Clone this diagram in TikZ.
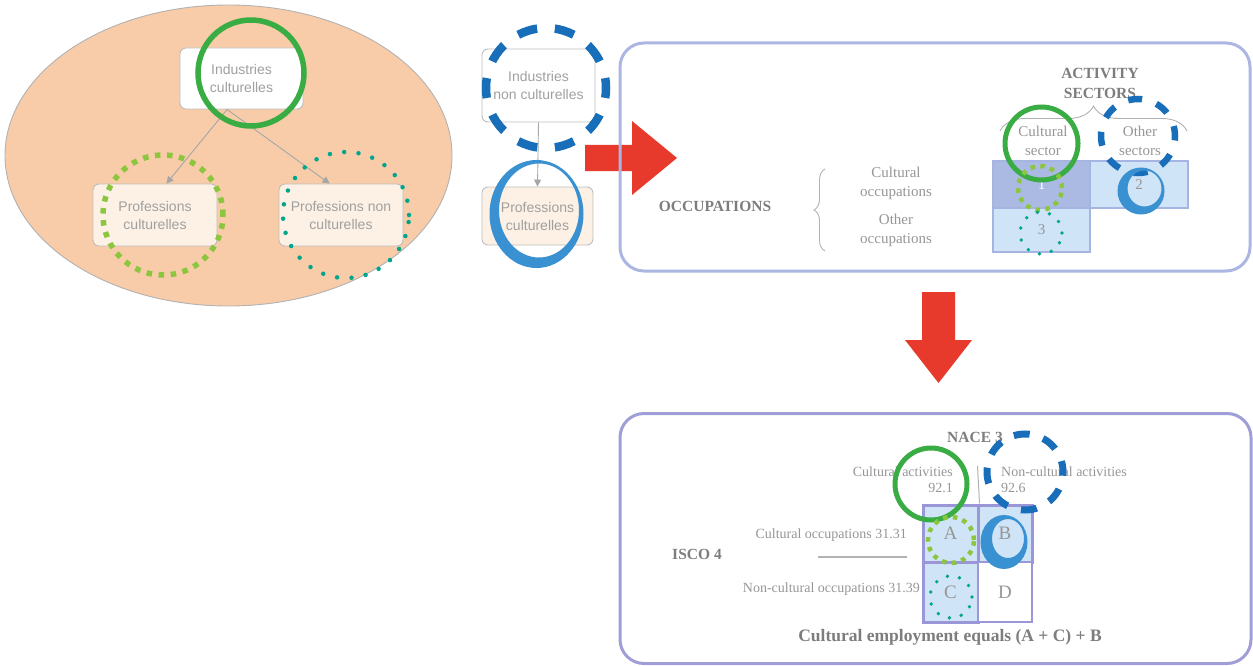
\documentclass[tikz,border=0pt]{standalone}
\usepackage{fontspec}
\setmainfont{Liberation Serif}
\newfontfamily\sansf{Liberation Sans}
\usetikzlibrary{decorations.pathreplacing,arrows.meta}

\definecolor{peach}{RGB}{248,204,168}
\definecolor{cream}{RGB}{253,241,229}
\definecolor{boxline}{RGB}{190,190,190}
\definecolor{sanstxt}{RGB}{160,160,160}
\definecolor{sertxt}{RGB}{150,150,150}
\definecolor{headtxt}{RGB}{125,125,125}
\definecolor{gsolid}{RGB}{58,172,68}
\definecolor{glight}{RGB}{140,198,63}
\definecolor{teal}{RGB}{0,166,140}
\definecolor{bdark}{RGB}{24,110,185}
\definecolor{blight}{RGB}{58,145,210}
\definecolor{redarrow}{RGB}{232,57,45}
\definecolor{panelline}{RGB}{172,182,226}
\definecolor{panelline2}{RGB}{160,158,215}
\definecolor{cellmid}{RGB}{170,186,226}
\definecolor{celllight}{RGB}{207,228,246}
\definecolor{cellline}{RGB}{165,180,225}
\definecolor{gridline}{RGB}{155,150,215}

\tikzset{
  flowbox/.style={draw=boxline, line width=0.9pt, rounded corners=6pt, align=center,
    inner sep=0pt, text=sanstxt, font=\sansf\fontsize{14}{18}\selectfont},
  flowarrow/.style={draw=gray!70, line width=0.9pt, -{Triangle[length=7pt,width=7pt]}},
  ring/.style={circle, inner sep=0pt, minimum size=#1},
  gring/.style={draw=gsolid, line width=5.5pt},
  ldash/.style={draw=glight, line width=#1, dash pattern=on #1 off 1.2*#1},
  tdots/.style={draw=teal, line width=#1, line cap=round, dash pattern=on 0pt off #1*3.2},
  bdash/.style={draw=bdark, line width=#1},
  panel/.style={draw=panelline, line width=3pt, rounded corners=24pt, inner sep=0pt},
  sertext/.style={text=sertxt, inner sep=0pt, font=\fontsize{15}{19}\selectfont, align=center},
  smalltext/.style={text=sertxt, inner sep=0pt, font=\fontsize{14}{17}\selectfont},
  headtext/.style={text=headtxt, inner sep=0pt, font=\bfseries\fontsize{15.5}{20}\selectfont, align=center},
  cell/.style={draw=cellline, line width=2.5pt, inner sep=0pt, text=sertxt,
    font=\fontsize{15}{18}\selectfont},
  gcell/.style={draw=gridline, line width=3pt, inner sep=0pt, text=sertxt,
    font=\fontsize{19}{22}\selectfont, minimum width=#1},
  brc/.style={draw=gray!60, line width=0.9pt, decorate},
}

\begin{document}
\begin{tikzpicture}[x=1pt,y=-1pt]
\useasboundingbox (0,0) rectangle (1253,666);

% ---------- left: cultural industries ellipse ----------
\fill[peach, draw=gray!60, line width=0.9pt] (228.5,155.5) ellipse [x radius=223.5, y radius=150.5];

\node[flowbox, fill=white, minimum width=123, minimum height=61] (ind) at (241.5,78.5) {Industries\\culturelles};
\node[flowbox, fill=cream, minimum width=124, minimum height=62] (pc) at (155,215) {Professions\\culturelles};
\node[flowbox, fill=cream, minimum width=124, minimum height=62] (pnc) at (341,215) {Professions non\\culturelles};

\draw[flowarrow] (ind.-115) -- (pc.70);
\draw[flowarrow] (ind.-115) -- (pnc.110);

\node[ring=106, gring] (gA) at (251,73) {};
\node[ring=120, ldash=5.5pt] (lA) at (163,215) {};
\node[ring=126, tdots=4.5pt] (tA) at (346,215) {};

% ---------- middle: non-cultural industries ----------
\node[flowbox, fill=white, minimum width=113, minimum height=73] (inc) at (538.5,85.5) {Industries\\non culturelles};
\node[flowbox, fill=cream, minimum width=111, minimum height=58] (pcm) at (537.5,216) {Professions\\culturelles};
\draw[flowarrow] (inc.south) -- (pcm.north);

\node[ring=120, bdash=8.5pt, dash pattern=on 20pt off 17.7pt, dash phase=10pt] (bA) at (546,88) {};
\fill[blight, even odd rule] (536.5,214) ellipse [x radius=47, y radius=54]
  (539,210.5) ellipse [x radius=40, y radius=47];

% red arrow to the right
\fill[redarrow] (585,145) -- (632,145) -- (632,121) -- (677,158) -- (632,195)
  -- (632,171) -- (585,171) -- cycle;

% ---------- top right panel ----------
\node[panel, minimum width=630, minimum height=228] (top) at (935,157) {};

\node[headtext] (act) at (1100,83) {ACTIVITY\\SECTORS};
\draw[brc, decoration={brace, amplitude=25pt}] (1000,131) -- (1187,131);
\node[sertext] (cs) at (1043,141) {Cultural\\sector};
\node[sertext] (os) at (1140,141) {Other\\sectors};

\node[cell, fill=cellmid, text=white, minimum width=97, minimum height=47] (c1) at (1041.5,184.5) {1};
\node[cell, fill=celllight, minimum width=98, minimum height=47] (c2) at (1139,184.5) {2};
\node[cell, fill=celllight, minimum width=97, minimum height=44] (c3) at (1041.5,230) {3};

\node[headtext] (occ) at (715,206) {OCCUPATIONS};
\draw[brc, decoration={brace, amplitude=11pt}] (825,251) -- (825,169);
\node[sertext] (cocc) at (896,183.5) {Cultural\\occupations};
\node[sertext] (oocc) at (896,230) {Other\\occupations};

\node[ring=73, draw=gsolid, line width=5pt] (gB) at (1041.5,143.5) {};
\node[ring=44, ldash=4.5pt] (lB) at (1040,188) {};
\node[ring=42, tdots=3.8pt] (tB) at (1041,233) {};
\node[ring=74, bdash=6.5pt, dash pattern=on 14pt off 15pt, dash phase=4pt] (bB) at (1138,136) {};
\fill[blight, even odd rule] (1141,191) ellipse [x radius=23.5, y radius=23.5]
  (1144.5,188.5) ellipse [x radius=17, y radius=18];

% red arrow downwards
\fill[redarrow] (922,292) -- (955,292) -- (955,340) -- (972,340) -- (938.5,383)
  -- (905,340) -- (922,340) -- cycle;

% ---------- bottom right panel ----------
\node[panel, draw=panelline2, minimum width=631, minimum height=250] (bot) at (935.5,538.5) {};

\node[headtext] (nace) at (975,437) {NACE 3};
\node[smalltext, anchor=east] (cact) at (953,472) {Cultural activities};
\node[smalltext, anchor=east] (c921) at (953,488) {92.1};
\node[smalltext, anchor=west] (nact) at (1001,472) {Non-cultural activities};
\node[smalltext, anchor=west] (c926) at (1001,488) {92.6};

\node[gcell=55, fill=celllight, minimum height=57] (cA) at (950.5,533.5) {A};
\node[gcell=54, fill=celllight, minimum height=57] (cB) at (1005,533.5) {B};
\node[gcell=55, fill=celllight, minimum height=60] (cC) at (950.5,592) {C};
\node[gcell=54, fill=white, line width=1.5pt, minimum height=60] (cD) at (1005,592) {D};

\coordinate (vtop) at (977.5,466);
\draw[gray!60, line width=1pt] (vtop) -- (cA.north east);

\node[smalltext, anchor=east] (cocc2) at (907,535) {Cultural occupations 31.31};
\coordinate (ls) at (818,557);
\coordinate (le) at (907,557);
\draw[gray!60, line width=1.2pt] (ls) -- (le);
\node[headtext] (isco) at (697,554) {ISCO 4};
\node[smalltext, anchor=east] (nocc) at (920,589) {Non-cultural occupations 31.39};
\node[headtext, font=\bfseries\fontsize{17.5}{20}\selectfont] (eq) at (950,637) {Cultural employment equals (A + C) + B};

\node[ring=72, draw=gsolid, line width=5pt] (gC) at (931,484) {};
\node[ring=76, bdash=7pt, dash pattern=on 16pt off 14pt, dash phase=5pt] (bC) at (1025,472) {};
\node[ring=46, ldash=4.5pt] (lC) at (951,540) {};
\node[ring=42, tdots=3.8pt] (tC) at (951,597) {};
\fill[blight, even odd rule] (1004,542) ellipse [x radius=23.5, y radius=27]
  (1008,538.5) ellipse [x radius=16, y radius=19.5];

\end{tikzpicture}
\end{document}
